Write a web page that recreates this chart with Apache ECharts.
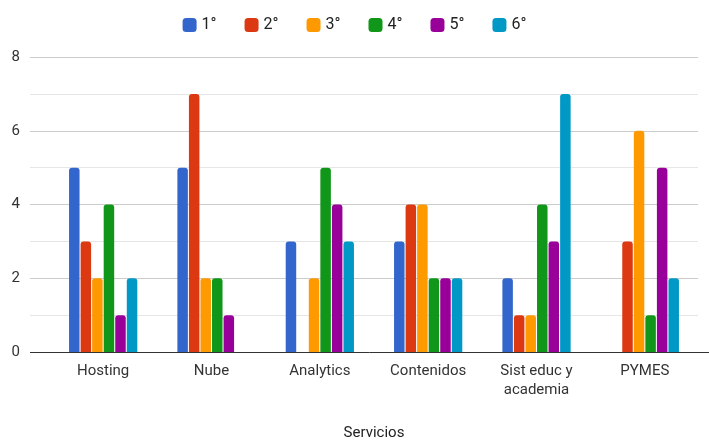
<!DOCTYPE html>
<html>
<head>
<meta charset="utf-8">
<script src="https://cdn.jsdelivr.net/npm/echarts@6/dist/echarts.min.js"></script>
<style>
  html, body { margin: 0; padding: 0; background: #fff; }
  #chart { width: 709px; height: 440px; }
</style>
</head>
<body>
<div id="chart"></div>
<script>
// Categories (x axis)
const categories = ['Hosting', 'Nube', 'Analytics', 'Contenidos', 'Sist educ y\nacademia', 'PYMES'];

// Series names and values, one array per ranking position
const seriesNames = ['1°', '2°', '3°', '4°', '5°', '6°'];
const rank1 = [5, 5, 3, 3, 2, 0];
const rank2 = [3, 7, 0, 4, 1, 3];
const rank3 = [2, 2, 2, 4, 1, 6];
const rank4 = [4, 2, 5, 2, 4, 1];
const rank5 = [1, 1, 4, 2, 3, 5];
const rank6 = [2, 0, 3, 2, 7, 2];
const seriesValues = [rank1, rank2, rank3, rank4, rank5, rank6];

// Value axis
const yMin = 0, yMax = 8, yStep = 2;

const colors = ['#3366cc', '#dc3912', '#ff9900', '#109618', '#990099', '#0099c6'];
const FONT = 'Roboto, "Liberation Sans", Arial, sans-serif';

const chart = echarts.init(document.getElementById('chart'), null, { renderer: 'canvas' });

chart.setOption({
  animation: false,
  color: colors,
  legend: {
    top: 12,
    left: 'center',
    itemWidth: 14,
    itemHeight: 14,
    itemGap: 28,
    icon: 'roundRect',
    textStyle: { fontFamily: FONT, fontSize: 16, color: '#222' },
    data: seriesNames
  },
  grid: [
    // full-width grid carrying the value gridlines and labels
    { left: 30, right: 11, top: 57, bottom: 88, containLabel: false, outerBoundsMode: 'none' },
    // plot grid carrying the categories and bars
    { left: 49, right: 10, top: 57, bottom: 88, containLabel: false, outerBoundsMode: 'none' }
  ],
  xAxis: [
    {
      gridIndex: 0, type: 'value', show: false, min: 0, max: 1
    },
    {
      gridIndex: 1,
      type: 'category',
      data: categories,
      name: 'Servicios',
      nameLocation: 'middle',
      nameGap: 74,
      nameTextStyle: { fontFamily: FONT, fontSize: 15, color: '#222' },
      axisLine: { show: false },
      axisTick: { show: false },
      axisLabel: { fontFamily: FONT, fontSize: 15, color: '#333', margin: 10, lineHeight: 19, interval: 0 }
    }
  ],
  yAxis: [
    {
      gridIndex: 0,
      type: 'value',
      min: yMin, max: yMax, interval: yStep,
      axisLine: { show: false },
      axisTick: { show: false },
      axisLabel: { fontFamily: FONT, fontSize: 15, color: '#333', margin: 10 },
      splitLine: { lineStyle: { color: '#cccccc', width: 1 } },
      minorTick: { show: false, splitNumber: 2 },
      minorSplitLine: { show: true, lineStyle: { color: '#e6e6e6', width: 1 } }
    },
    {
      gridIndex: 1,
      type: 'value',
      min: yMin, max: yMax, interval: yStep,
      show: false
    }
  ],
  series: seriesNames.map((name, i) => ({
    name: name,
    type: 'bar',
    xAxisIndex: 1,
    yAxisIndex: 1,
    data: seriesValues[i],
    barCategoryGap: '37%',
    barGap: '10%',
    itemStyle: { borderRadius: [3, 3, 0, 0] }
  })).concat([{
    // baseline at zero across the full width
    type: 'line',
    xAxisIndex: 0,
    yAxisIndex: 0,
    data: [],
    silent: true,
    markLine: {
      silent: true,
      symbol: 'none',
      label: { show: false },
      lineStyle: { color: '#333', width: 1, type: 'solid' },
      data: [[{ coord: [0, 0] }, { x: 709, yAxis: 0 }]]
    }
  }])
});
</script>
</body>
</html>
